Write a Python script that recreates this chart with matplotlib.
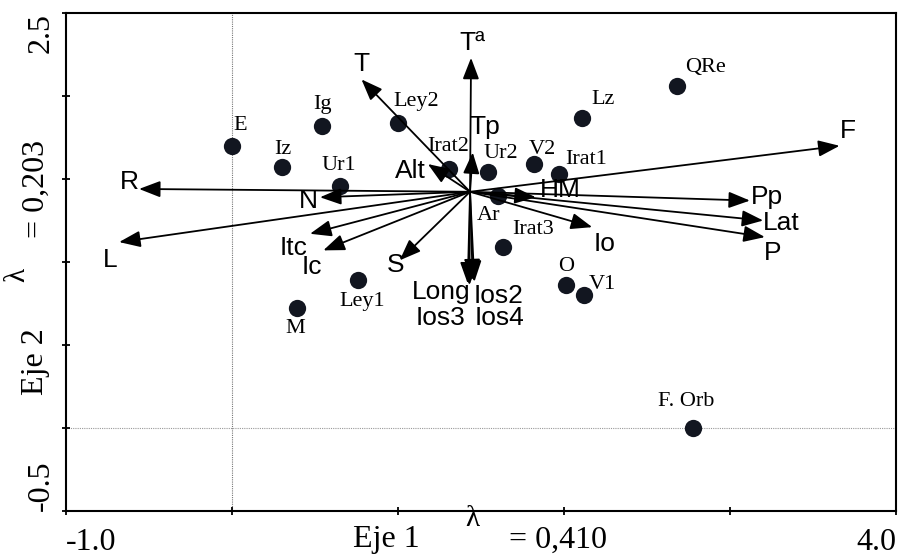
import numpy as np
import matplotlib
matplotlib.use("Agg")
import matplotlib.pyplot as plt

# sites (dots)
site_names = ["E", "Iz", "Ig", "Ley2", "Ur1", "Irat2", "Ur2", "V2", "Irat1", "Lz",
              "QRe", "Ar", "Irat3", "O", "V1", "Ley1", "M", "F. Orb"]
site_x = [0.00, 0.30, 0.54, 1.00, 0.65, 1.31, 1.54, 1.82, 1.97, 2.11,
          2.68, 1.60, 1.63, 2.01, 2.12, 0.76, 0.39, 2.78]
site_y = [1.70, 1.57, 1.82, 1.84, 1.46, 1.56, 1.54, 1.59, 1.53, 1.87,
          2.06, 1.40, 1.09, 0.86, 0.80, 0.89, 0.72, 0.00]

# environmental variables (arrow tips), all drawn from one origin
origin = (1.434, 1.423)
var_names = ["T", "Tª", "Tp", "Alt", "N", "R", "L", "Itc", "Ic", "S",
             "Long", "Ios2", "Ios3", "Ios4", "HM", "Io", "F", "Pp", "Lat", "P"]
var_x = [0.78, 1.44, 1.45, 1.18, 0.53, -0.56, -0.68, 0.47, 0.55, 1.01,
         1.42, 1.46, 1.43, 1.45, 1.83, 2.17, 3.66, 3.12, 3.20, 3.21]
var_y = [2.10, 2.23, 1.66, 1.59, 1.39, 1.44, 1.12, 1.17, 1.07, 1.01,
         0.87, 0.88, 0.86, 0.89, 1.39, 1.21, 1.70, 1.37, 1.25, 1.15]

# label offsets in pixels (dx right, dy down)
site_off = [(8, -20), (1, -18), (1, -21), (18, -21), (-1, -20), (-1, -23), (13, -19),
            (8, -15), (27, -15), (21, -18), (29, -19), (-9, 20), (31, -18), (0, -19),
            (18, -11), (4, 21), (-1, 20), (-7, -26)]
var_off = [(0, -15), (1, -15), (12, -25), (-17, 7), (-12, 4), (-10, -7), (-9, 18),
           (-16, 14), (-11, 17), (-4, 5), (-27, 8), (24, 14), (-29, 33), (27, 38),
           (25, -7), (12, 17), (8, -15), (17, -4), (18, 2), (8, 16)]

W, H = 899, 556
serif = "Liberation Serif"
sans = "Liberation Sans"

fig = plt.figure(figsize=(W / 100, H / 100), dpi=100)
ax = fig.add_axes([66 / W, 1 - 511 / H, 830 / W, 498 / H])
ax.set_xlim(-1, 4)
ax.set_ylim(-0.5, 2.5)

ax.axvline(0, color="#777777", lw=0.8, ls=(0, (1, 1)), zorder=0)
ax.axhline(0, color="#999999", lw=0.8, ls=(0, (1, 1)), zorder=0)

ax.scatter(site_x, site_y, s=155, color="#121620", zorder=3, linewidths=0)
for name, x, y, (dx, dy) in zip(site_names, site_x, site_y, site_off):
    ax.annotate(name, (x, y), xytext=(dx, -dy), textcoords="offset pixels",
                ha="center", va="center", fontsize=16, family=serif, zorder=5)

for name, x, y, (dx, dy) in zip(var_names, var_x, var_y, var_off):
    ax.annotate("", xy=(x, y), xytext=origin,
                arrowprops=dict(arrowstyle="-|>,head_length=0.65,head_width=0.25",
                                mutation_scale=20, lw=1.3, color="black",
                                shrinkA=0, shrinkB=0), zorder=4)
    ax.annotate(name, (x, y), xytext=(dx, -dy), textcoords="offset pixels",
                ha="center", va="center", fontsize=19, family=sans, zorder=5)

for sp in ax.spines.values():
    sp.set_linewidth(1.5)

ax.set_xticks(np.arange(-1, 4.01, 1))
ax.set_xticklabels(["-1.0", "", "", "", "", "4.0"], family=serif, fontsize=23)
ax.set_yticks(np.arange(-0.5, 2.51, 0.5))
ax.set_yticklabels(["-0.5", "", "", "", "", "", "2.5"], family=serif, fontsize=23,
                   rotation=90)
ax.tick_params(direction="inout", length=6, width=1.3)
ax.tick_params(axis="x", pad=9)
ax.tick_params(axis="y", pad=15)
xl = ax.get_xticklabels()
xl[0].set_ha("left")
xl[-1].set_ha("right")
yl = ax.get_yticklabels()
yl[0].set_va("bottom")
yl[-1].set_va("top")
for t in yl:
    t.set_ha("center")


def ftext(px, py, s, size, rot=0):
    fig.text(px / W, 1 - py / H, s, ha="center", va="center", fontsize=size,
             family=serif, rotation=rot)


# axis titles
ftext(386, 540, "Eje 1", 23)
ftext(472, 519, "λ", 21)
ftext(558, 540, "= 0,410", 23)
ftext(36, 362, "Eje 2", 23, rot=90)
ftext(17, 275, "λ", 21, rot=90)
ftext(36, 189, "= 0,203", 23, rot=90)

fig.savefig("out.png", dpi=100)
